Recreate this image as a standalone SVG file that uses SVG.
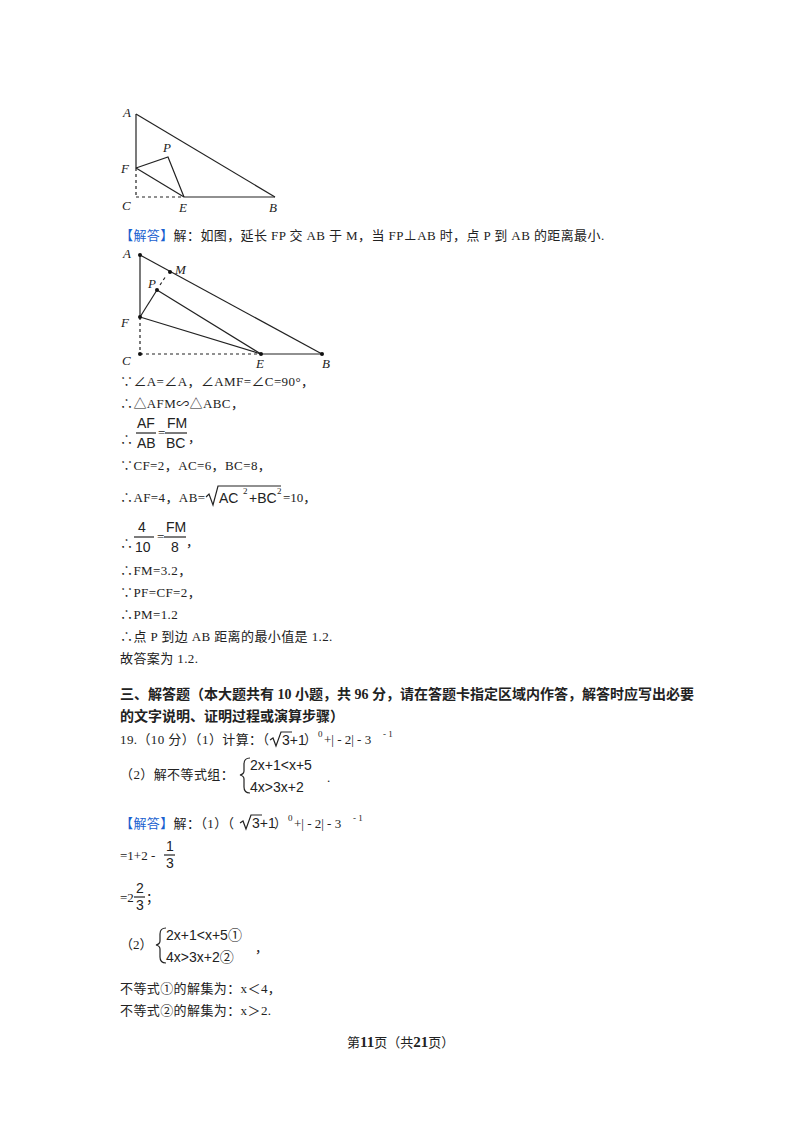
<svg xmlns="http://www.w3.org/2000/svg" width="800" height="1132" viewBox="0 0 800 1132">
<style>
text{font-family:"Liberation Serif","Noto Sans CJK SC",serif;font-size:13px;fill:#222}
.l{font-style:italic;font-size:13px}
.b{fill:#1a5fd0}
.h{font-weight:bold;font-size:14px}
.s{font-size:9px}
.m{font-family:"Liberation Sans","Noto Sans CJK SC",sans-serif;font-size:14px}
line,path,polyline{stroke:#222;stroke-width:1.2;fill:none}
.d{stroke-dasharray:3,3}
</style>
<rect width="800" height="1132" fill="#fff"/>
<g id="fig1">
<line x1="136" y1="114" x2="136" y2="168"/>
<line x1="136" y1="114" x2="275" y2="197"/>
<polyline points="136,168 168,157 184,197"/>
<line x1="136" y1="168" x2="184" y2="197"/>
<line x1="184" y1="197" x2="275" y2="197"/>
<line class="d" x1="136" y1="168" x2="136" y2="197"/>
<line class="d" x1="136" y1="197" x2="184" y2="197"/>
<text class="l" x="123" y="117">A</text><text class="l" x="121" y="173">F</text>
<text class="l" x="122" y="210">C</text><text class="l" x="179" y="212">E</text>
<text class="l" x="269" y="212">B</text><text class="l" x="163" y="152">P</text>
</g>
<text x="120" y="240" letter-spacing="0.4"><tspan class="b">【解答】</tspan>解：如图，延长 FP 交 AB 于 M，当 FP⊥AB 时，点 P 到 AB 的距离最小.</text>
<g id="fig2">
<line x1="140" y1="255" x2="140" y2="317"/>
<line x1="140" y1="255" x2="322" y2="354"/>
<line x1="140" y1="317" x2="157" y2="290"/>
<line class="d" x1="160" y1="285" x2="166" y2="276"/>
<line x1="157" y1="290" x2="261" y2="354"/>
<line x1="140" y1="317" x2="261" y2="354"/>
<line x1="261" y1="354" x2="322" y2="354"/>
<line class="d" x1="140" y1="317" x2="140" y2="354"/>
<line class="d" x1="140" y1="354" x2="261" y2="354"/>
<g fill="#111"><circle cx="140" cy="255" r="2"/><circle cx="170" cy="272" r="2"/><circle cx="157" cy="290" r="2"/><circle cx="140" cy="317" r="2"/><circle cx="140" cy="354" r="2"/><circle cx="261" cy="354" r="2"/><circle cx="322" cy="354" r="2"/></g>
<text class="l" x="123" y="258">A</text><text class="l" x="175" y="274">M</text>
<text class="l" x="148" y="288">P</text><text class="l" x="121" y="327">F</text>
<text class="l" x="122" y="365">C</text><text class="l" x="256" y="368">E</text>
<text class="l" x="322" y="368">B</text>
</g>
<text x="120" y="386" letter-spacing="0.4">∵∠A=∠A，∠AMF=∠C=90°，</text>
<text x="120" y="408" letter-spacing="0.4">∴△AFM∽△ABC，</text>
<text x="120" y="444">∴</text>
<text class="m" x="137" y="428">AF</text><line x1="136" y1="433" x2="156" y2="433"/><text class="m" x="137" y="448">AB</text>
<text x="158" y="437">=</text>
<text class="m" x="167" y="428">FM</text><line x1="165" y1="433" x2="187" y2="433"/><text class="m" x="166" y="448">BC</text><text x="188" y="442">，</text>
<text x="120" y="470" letter-spacing="0.4">∵CF=2，AC=6，BC=8，</text>
<text x="120" y="502" letter-spacing="0.4">∴AF=4，AB=</text>
<path d="M206,497 L209,494 L213,505 L218,486 L281,486"/>
<text class="m" x="219" y="503">AC</text><text class="s" x="243" y="494">2</text><text class="m" x="249" y="503">+BC</text><text class="s" x="277" y="494">2</text>
<text x="283" y="502">=10，</text>
<text x="120" y="548">∴</text>
<text class="m" x="138" y="532">4</text><line x1="134" y1="537" x2="154" y2="537"/><text class="m" x="135" y="552">10</text>
<text x="157" y="541">=</text>
<text class="m" x="166" y="532">FM</text><line x1="164" y1="537" x2="186" y2="537"/><text class="m" x="171" y="552">8</text><text x="186" y="546">，</text>
<text x="120" y="575" letter-spacing="0.4">∴FM=3.2，</text>
<text x="120" y="597" letter-spacing="0.4">∵PF=CF=2，</text>
<text x="120" y="619" letter-spacing="0.4">∴PM=1.2</text>
<text x="120" y="641" letter-spacing="0.4">∴点 P 到边 AB 距离的最小值是 1.2.</text>
<text x="120" y="663" letter-spacing="0.4">故答案为 1.2.</text>
<text class="h" x="120" y="699">三、解答题（本大题共有 10 小题，共 96 分，请在答题卡指定区域内作答，解答时应写出必要</text>
<text class="h" x="120" y="721">的文字说明、证明过程或演算步骤）</text>
<text x="120" y="744" letter-spacing="0.4">19.（10 分）（1）计算：（</text>
<path d="M270,740 L273,738 L276,746 L281,732 L292,732"/>
<text class="m" x="282" y="745">3+1</text><text x="304" y="744">）</text><text class="s" x="318" y="737">0</text><text x="324" y="744">+| - 2| - 3</text><text class="s" x="383" y="737">- 1</text>
<text x="120" y="779" letter-spacing="0.4">（2）解不等式组：</text>
<path d="M250,758 Q244,758 244,764 L244,771 Q244,774 240,775 Q244,776 244,779 L244,787 Q244,793 250,793"/>
<text class="m" x="250" y="770">2x+1&lt;x+5</text>
<text class="m" x="250" y="792">4x&gt;3x+2</text>
<text x="327" y="782">.</text>
<text x="120" y="828" letter-spacing="0.4"><tspan class="b">【解答】</tspan>解：（1）（</text>
<path d="M240,823 L243,821 L246,829 L251,815 L262,815"/>
<text class="m" x="252" y="828">3+1</text><text x="274" y="828">）</text><text class="s" x="288" y="821">0</text><text x="294" y="828">+| - 2| - 3</text><text class="s" x="353" y="821">- 1</text>
<text x="120" y="860">=1+2 - </text>
<text class="m" x="166" y="851">1</text><line x1="164" y1="855" x2="175" y2="855"/><text class="m" x="166" y="868">3</text>
<text x="120" y="902">=2</text>
<text class="m" x="136" y="893">2</text><line x1="134" y1="897" x2="145" y2="897"/><text class="m" x="136" y="910">3</text><text x="146" y="902">；</text>
<text x="120" y="949">（2）</text>
<path d="M166,928 Q160,928 160,934 L160,941 Q160,944 156,945 Q160,946 160,949 L160,957 Q160,963 166,963"/>
<text class="m" x="166" y="940">2x+1&lt;x+5①</text>
<text class="m" x="166" y="962">4x&gt;3x+2②</text>
<text x="255" y="952">，</text>
<text x="120" y="993" letter-spacing="0.4">不等式①的解集为：x＜4，</text>
<text x="120" y="1015" letter-spacing="0.4">不等式②的解集为：x＞2.</text>
<text x="347" y="1047">第<tspan font-weight="bold" font-size="15">11</tspan>页（共<tspan font-weight="bold" font-size="15">21</tspan>页）</text>
</svg>
